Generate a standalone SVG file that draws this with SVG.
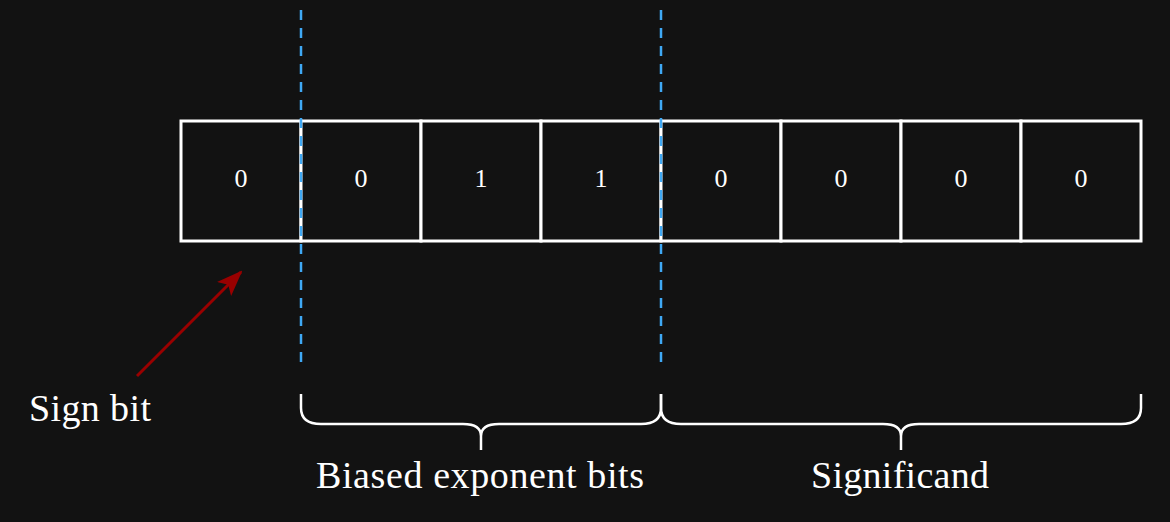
<svg xmlns="http://www.w3.org/2000/svg" width="1170" height="522" viewBox="0 0 1170 522">
<defs>
<style>
.cell{fill:#121212;stroke:#ffffff;stroke-width:3}
.bit{fill:#ffffff;font-family:"Liberation Serif",serif;font-size:26px;text-anchor:middle}
.lbl{fill:#ffffff;font-family:"Liberation Serif",serif;font-size:38px}
.div{stroke:#3fa9f5;stroke-width:2.5;stroke-dasharray:10 8;fill:none}
.brace{stroke:#ffffff;stroke-width:2.5;fill:none}
</style>
<marker id="ah" markerWidth="26" markerHeight="20" refX="24" refY="10" orient="auto" markerUnits="userSpaceOnUse" viewBox="0 0 26 20">
<path d="M0,0 L26,10 L0,20 L6,10 Z" fill="#990000"/>
</marker>
</defs>
<rect width="1170" height="522" fill="#121212"/>
<g id="cells">
<g id="c0"><rect class="cell" x="181" y="121" width="120" height="120"/><text class="bit" x="241" y="187">0</text></g>
<g id="c1"><rect class="cell" x="301" y="121" width="120" height="120"/><text class="bit" x="361" y="187">0</text></g>
<g id="c2"><rect class="cell" x="421" y="121" width="120" height="120"/><text class="bit" x="481" y="187">1</text></g>
<g id="c3"><rect class="cell" x="541" y="121" width="120" height="120"/><text class="bit" x="601" y="187">1</text></g>
<g id="c4"><rect class="cell" x="661" y="121" width="120" height="120"/><text class="bit" x="721" y="187">0</text></g>
<g id="c5"><rect class="cell" x="781" y="121" width="120" height="120"/><text class="bit" x="841" y="187">0</text></g>
<g id="c6"><rect class="cell" x="901" y="121" width="120" height="120"/><text class="bit" x="961" y="187">0</text></g>
<g id="c7"><rect class="cell" x="1021" y="121" width="120" height="120"/><text class="bit" x="1081" y="187">0</text></g>
</g>
<g id="connectors">
<line class="div" x1="301" y1="10" x2="301" y2="362"/>
<line class="div" x1="661" y1="10" x2="661" y2="362"/>
<line x1="137" y1="376" x2="241" y2="272" stroke="#990000" stroke-width="3" marker-end="url(#ah)"/>
<path class="brace" d="M301,394 L301,408 Q301,424 321,424 L463,424 Q481,424 481,436 L481,450 M481,436 Q481,424 499,424 L641,424 Q661,424 661,408 L661,394"/>
<path class="brace" d="M661,394 L661,408 Q661,424 681,424 L883,424 Q901,424 901,436 L901,450 M901,436 Q901,424 919,424 L1121,424 Q1141,424 1141,408 L1141,394"/>
</g>
<g id="labels">
<text class="lbl" x="29" y="421" textLength="122">Sign bit</text>
<text class="lbl" x="480" y="488" text-anchor="middle" textLength="328">Biased exponent bits</text>
<text class="lbl" x="900" y="488" text-anchor="middle" textLength="178">Significand</text>
</g>
</svg>
